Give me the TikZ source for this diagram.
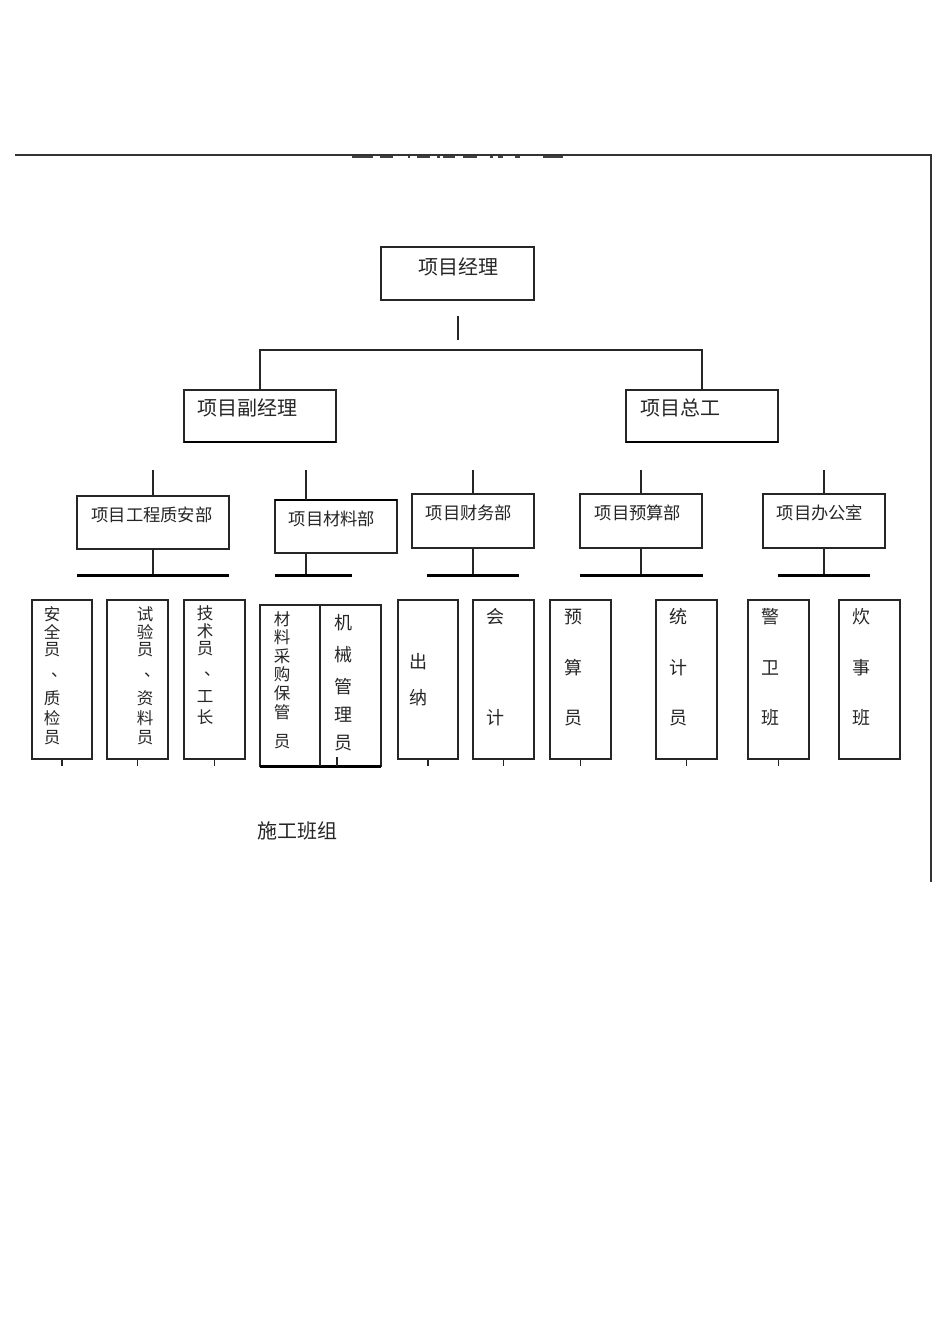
\documentclass[tikz,border=0pt]{standalone}
\usepackage{fontspec}
\newfontfamily\cjk{Noto Sans CJK SC}
\newcommand\dunmark{\raisebox{0pt}[0pt][0pt]{\makebox[0pt][l]{、}}}
\tikzset{
  box/.style={draw=black!85, line width=1.2pt, inner sep=0pt, outer sep=0pt, anchor=north west},
  ln/.style={draw=black!85, line width=1.2pt},
  bar/.style={draw=black, line width=3pt},
  tbig/.style={font=\cjk\fontsize{20}{20}\selectfont, inner sep=0pt, text=black!85},
  tmid/.style={font=\cjk\fontsize{17.3}{17.3}\selectfont, inner sep=0pt, text=black!85},
  tch/.style={font=\cjk\fontsize{18}{18}\selectfont, inner sep=0pt, text=black!85},
  tsm/.style={font=\cjk\fontsize{16.5}{16.5}\selectfont, inner sep=0pt, text=black!85},
  tdun/.style={font=\cjk\fontsize{16.5}{16.5}\selectfont, inner sep=0pt, text=black!85, anchor=center},
}
\begin{document}
\begin{tikzpicture}[x=1pt,y=-1pt]
\useasboundingbox[fill=white] (0,0) rectangle (950,1344);

% frame
\coordinate (fl) at (15,155);
\coordinate (fr) at (931,155);
\coordinate (fb) at (931,882);
\draw[line width=2pt, draw=black!80] (fl) -- (fr) -- (fb);
% title remnant
\foreach \a/\b in {352/373,380/393,408/410,417/430,437/440,443/455,463/477,490/493,498/503,515/520,543/563}
  \fill[black!75] (\a,155.5) rectangle (\b,158);

% level 1
\node[box, minimum width=153, minimum height=53] (pm) at (381,247) {};
\node[tbig] (pmt) at (458,267) {项目经理};

% level 2
\node[box, minimum width=152, minimum height=52] (dep) at (184,390) {};
\draw[line width=2pt] (dep.south west) -- (dep.south east);
\node[tbig, anchor=west] (dept) at (197,408) {项目副经理};
\node[box, minimum width=152, minimum height=52] (ce) at (626,390) {};
\draw[line width=2pt] (ce.south west) -- (ce.south east);
\node[tbig, anchor=west] (cet) at (640,408) {项目总工};

\coordinate (pmA) at (458,316);
\coordinate (pmB) at (458,340);
\draw[ln] (pmA) -- (pmB);
\draw[ln] (dep.north) -- ++(0,-40) -| (ce.north);

% level 3
\node[box, minimum width=152, minimum height=53] (d1) at (77,496) {};
\node[tmid] (d1t) at (152,515) {项目工程质安部};
\node[box, minimum width=122, minimum height=53] (d2) at (275,500) {};
\draw[line width=2pt] (d2.north west) -- (d2.north east);
\node[tmid] (d2t) at (332,519) {项目材料部};
\node[box, minimum width=122, minimum height=54] (d3) at (412,494) {};
\node[tmid] (d3t) at (469,513) {项目财务部};
\node[box, minimum width=122, minimum height=54] (d4) at (580,494) {};
\node[tmid] (d4t) at (638,513) {项目预算部};
\node[box, minimum width=122, minimum height=54] (d5) at (763,494) {};
\node[tmid] (d5t) at (820,513) {项目办公室};

% stubs above departments
\coordinate (u1) at (153,470);
\coordinate (u2) at (306,470);
\coordinate (u3) at (473,470);
\coordinate (u4) at (641,470);
\coordinate (u5) at (824,470);
\draw[ln] (u1) -- (u1 |- d1.north);
\draw[ln] (u2) -- (u2 |- d2.north);
\draw[ln] (u3) -- (u3 |- d3.north);
\draw[ln] (u4) -- (u4 |- d4.north);
\draw[ln] (u5) -- (u5 |- d5.north);

% bars
\coordinate (b1w) at (77,575);  \coordinate (b1e) at (229,575);
\coordinate (b2w) at (275,575); \coordinate (b2e) at (352,575);
\coordinate (b3w) at (427,575); \coordinate (b3e) at (519,575);
\coordinate (b4w) at (580,575); \coordinate (b4e) at (703,575);
\coordinate (b5w) at (778,575); \coordinate (b5e) at (870,575);
\draw[ln] (u1 |- d1.south) -- (u1 |- b1w);
\draw[ln] (u2 |- d2.south) -- (u2 |- b2w);
\draw[ln] (u3 |- d3.south) -- (u3 |- b3w);
\draw[ln] (u4 |- d4.south) -- (u4 |- b4w);
\draw[ln] (u5 |- d5.south) -- (u5 |- b5w);
\draw[bar] (b1w) -- (b1e);
\draw[bar] (b2w) -- (b2e);
\draw[bar] (b3w) -- (b3e);
\draw[bar] (b4w) -- (b4e);
\draw[bar] (b5w) -- (b5e);

% bottom boxes
\node[box, minimum width=60, minimum height=159] (s1) at (32,600) {};
\node[box, minimum width=61, minimum height=159] (s2) at (107,600) {};
\node[box, minimum width=61, minimum height=159] (s3) at (184,600) {};
\node[box, minimum width=121, minimum height=161] (s4) at (260,605) {};
\draw[line width=3pt] (s4.south west) -- (s4.south east);
\coordinate (s4d) at (320,605);
\draw[ln] (s4d) -- (s4d |- s4.south);
\node[box, minimum width=60, minimum height=159] (s5) at (398,600) {};
\node[box, minimum width=61, minimum height=159] (s6) at (473,600) {};
\node[box, minimum width=61, minimum height=159] (s7) at (550,600) {};
\node[box, minimum width=61, minimum height=159] (s8) at (656,600) {};
\node[box, minimum width=61, minimum height=159] (s9) at (748,600) {};
\node[box, minimum width=61, minimum height=159] (s10) at (839,600) {};

% ticks under bottom boxes
\foreach \n in {s1,s2,s3,s5,s6,s7,s8,s9}
  \draw[ln] (\n.south) -- ++(0,7);
\coordinate (s4t) at (337,757);
\draw[ln] (s4t) -- (s4t |- s4.south);

% vertical texts
\foreach \c/\y [count=\i] in {安/614,全/632,员/650,质/698,检/718,员/738}
  \node[tsm] (ta\i) at (52,\y) {\c};
\node[tdun] (ta0) at (51,676) {\dunmark};
\foreach \c/\y [count=\i] in {试/614,验/632,员/650,资/698,料/718,员/738}
  \node[tsm] (tb\i) at (145,\y) {\c};
\node[tdun] (tb0) at (144,676) {\dunmark};
\foreach \c/\y [count=\i] in {技/613,术/631,员/649,工/697,长/717}
  \node[tsm] (tc\i) at (205,\y) {\c};
\node[tdun] (tc0) at (204,675) {\dunmark};
\foreach \c/\y [count=\i] in {材/619,料/637,采/656,购/674,保/693,管/712,员/742}
  \node[tsm] (td\i) at (282,\y) {\c};
\foreach \c/\y [count=\i] in {机/623,械/655,管/687,理/715,员/743}
  \node[tch] (te\i) at (343,\y) {\c};
\foreach \c/\y [count=\i] in {出/662,纳/698}
  \node[tch] (tf\i) at (418,\y) {\c};
\foreach \c/\y [count=\i] in {会/617,计/718}
  \node[tch] (tg\i) at (495,\y) {\c};
\foreach \c/\y [count=\i] in {预/617,算/668,员/718}
  \node[tch] (th\i) at (573,\y) {\c};
\foreach \c/\y [count=\i] in {统/617,计/668,员/718}
  \node[tch] (ti\i) at (678,\y) {\c};
\foreach \c/\y [count=\i] in {警/617,卫/668,班/718}
  \node[tch] (tj\i) at (770,\y) {\c};
\foreach \c/\y [count=\i] in {炊/617,事/668,班/718}
  \node[tch] (tk\i) at (861,\y) {\c};

\node[tbig, anchor=west] (team) at (257,831) {施工班组};
\end{tikzpicture}
\end{document}
